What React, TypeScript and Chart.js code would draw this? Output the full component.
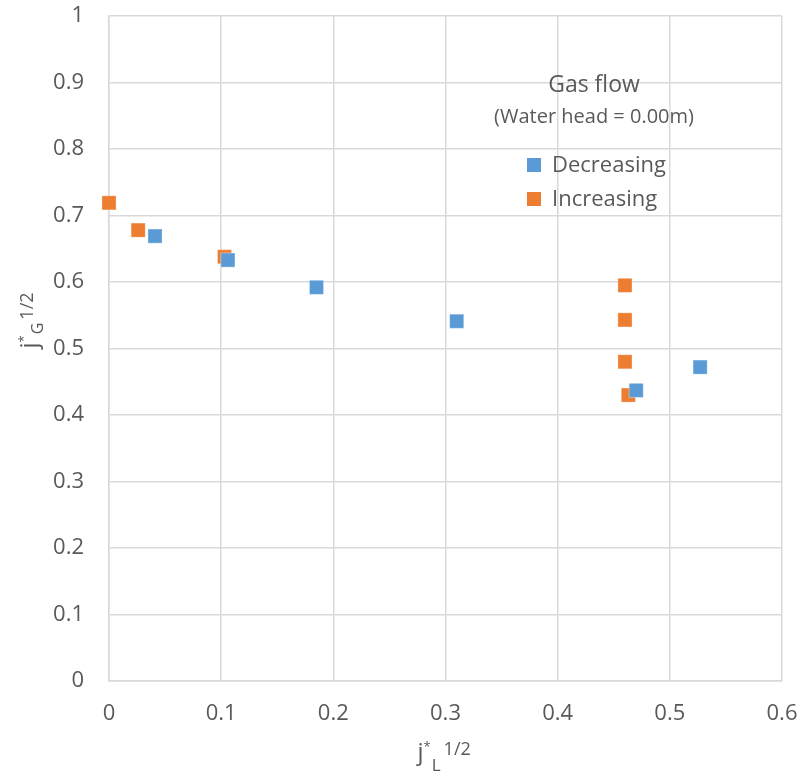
import React, { useEffect, useRef } from 'react';
import { Chart, registerables } from 'chart.js';
Chart.register(...registerables);

const decreasingX = [0.041, 0.106, 0.185, 0.31, 0.47, 0.527];
const decreasingY = [0.669, 0.633, 0.592, 0.541, 0.437, 0.472];
const increasingX = [0.0, 0.026, 0.103, 0.46, 0.46, 0.46, 0.463];
const increasingY = [0.719, 0.678, 0.638, 0.595, 0.543, 0.48, 0.43];
const seriesNames = ['Decreasing', 'Increasing'];
const legendTitle = 'Gas flow';
const legendSubtitle = '(Water head = 0.00m)';

const BLUE = '#5B9BD5';
const ORANGE = '#ED7D31';
const TEXT = '#595959';
const FONT = "'Open Sans', sans-serif";

const overlay = {
  id: 'overlay',
  afterDraw(chart: any) {
    const ctx = chart.ctx as CanvasRenderingContext2D;
    const area = chart.chartArea;
    ctx.save();
    ctx.fillStyle = TEXT;
    ctx.textBaseline = 'alphabetic';
    ctx.textAlign = 'left';

    // x axis title j*_L^{1/2}
    const xc = (area.left + area.right) / 2;
    let x = xc - 28;
    const by = 760;
    ctx.font = `24px ${FONT}`;
    ctx.fillText('j', x, by);
    x += ctx.measureText('j').width;
    ctx.font = `13px ${FONT}`;
    ctx.fillText('*', x, by - 9);
    x += ctx.measureText('*').width + 1;
    ctx.font = `17px ${FONT}`;
    ctx.fillText('L', x, by + 11);
    x += ctx.measureText('L').width + 3;
    ctx.font = `18px ${FONT}`;
    ctx.fillText('1/2', x, by - 5);

    // y axis title
    ctx.save();
    ctx.rotate(-Math.PI / 2);
    const yc = (area.top + area.bottom) / 2;
    let t = -yc;
    const bx = 37;
    ctx.font = `24px ${FONT}`;
    ctx.fillText('j', t, bx);
    t += ctx.measureText('j').width;
    ctx.font = `13px ${FONT}`;
    ctx.fillText('*', t, bx - 9);
    t += ctx.measureText('*').width + 1;
    ctx.font = `16px ${FONT}`;
    ctx.fillText('G', t, bx + 6);
    t += ctx.measureText('G').width + 3;
    ctx.font = `18px ${FONT}`;
    ctx.fillText('1/2', t, bx - 4);
    ctx.restore();

    // legend
    const lc = 594;
    ctx.textAlign = 'center';
    ctx.textBaseline = 'middle';
    ctx.font = `23px ${FONT}`;
    ctx.fillText(legendTitle, lc, 85);
    ctx.font = `20px ${FONT}`;
    ctx.fillText(legendSubtitle, lc, 117);
    const colors = [BLUE, ORANGE];
    const ys = [165, 199];
    ctx.textAlign = 'left';
    ctx.font = `22px ${FONT}`;
    seriesNames.forEach((n, i) => {
      ctx.fillStyle = colors[i];
      ctx.fillRect(527, ys[i] - 7, 14, 14);
      ctx.fillStyle = TEXT;
      ctx.fillText(n, 552, ys[i] + 1);
    });
    ctx.restore();
  },
};

export default function App() {
  const ref = useRef<HTMLCanvasElement>(null);
  useEffect(() => {
    document.body.style.margin = '0';
    const chart = new Chart(ref.current!, {
      type: 'scatter',
      data: {
        datasets: [
          {
            label: seriesNames[0],
            data: decreasingX.map((v, i) => ({ x: v, y: decreasingY[i] })),
            backgroundColor: BLUE,
            borderColor: 'rgba(255,255,255,0.35)',
            borderWidth: 1,
            pointStyle: 'rect',
            pointRadius: 10,
            clip: false,
          },
          {
            label: seriesNames[1],
            data: increasingX.map((v, i) => ({ x: v, y: increasingY[i] })),
            backgroundColor: ORANGE,
            borderColor: 'rgba(255,255,255,0.35)',
            borderWidth: 1,
            pointStyle: 'rect',
            pointRadius: 10,
            clip: false,
          },
        ],
      },
      options: {
        responsive: false,
        animation: false,
        layout: { padding: { top: 16, right: 21, left: 0, bottom: 0 } },
        plugins: { legend: { display: false }, tooltip: { enabled: false } },
        scales: {
          x: {
            type: 'linear',
            min: 0,
            max: 0.6,
            ticks: {
              stepSize: 0.1,
              color: TEXT,
              font: { family: FONT, size: 22 },
              padding: 20,
              maxRotation: 0,
              callback: (v: any) => String(Math.round(Number(v) * 10) / 10),
            },
            grid: { color: '#D9D9D9', drawTicks: false, lineWidth: 1.5 },
            border: { color: '#D9D9D9', width: 1.5 },
            afterFit: (s: any) => {
              s.height = 94;
              s.paddingLeft = 0;
              s.paddingRight = 0;
            },
          },
          y: {
            type: 'linear',
            min: 0,
            max: 1,
            ticks: {
              stepSize: 0.1,
              color: TEXT,
              font: { family: FONT, size: 22 },
              padding: 25,
              callback: (v: any) => String(Math.round(Number(v) * 10) / 10),
            },
            grid: { color: '#D9D9D9', drawTicks: false, lineWidth: 1.5 },
            border: { color: '#D9D9D9', width: 1.5 },
            afterFit: (s: any) => {
              s.width = 109;
              s.paddingTop = 0;
              s.paddingBottom = 0;
            },
          },
        },
      },
      plugins: [overlay],
    });
    return () => chart.destroy();
  }, []);
  return <canvas ref={ref} width={803} height={775} style={{ display: 'block' }} />;
}
